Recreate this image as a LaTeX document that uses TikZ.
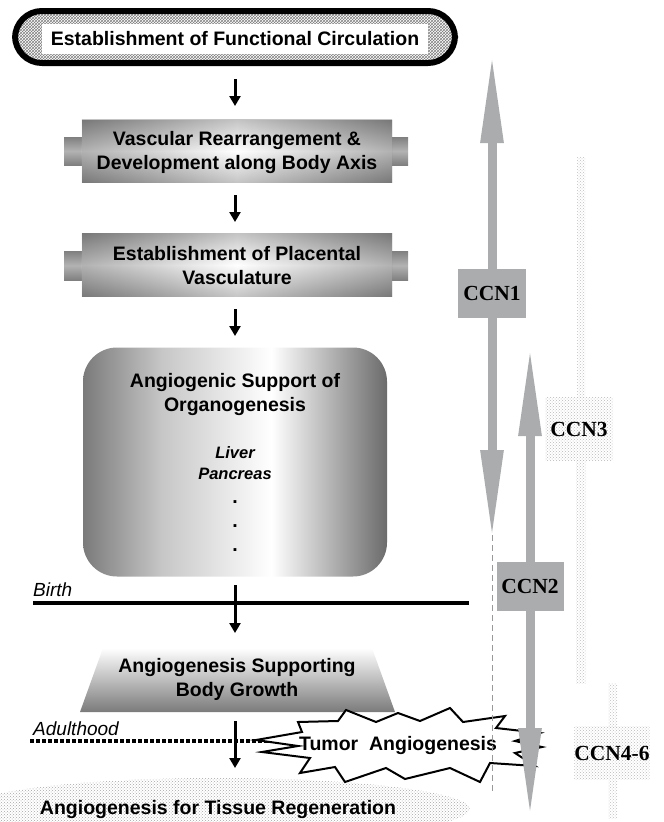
\documentclass[tikz,border=0pt]{standalone}
\usepackage{fontspec}
\setmainfont{Liberation Sans}
\newfontfamily\ccnfont{Liberation Serif}
\usetikzlibrary{patterns,shapes.geometric,arrows.meta}
\definecolor{ccngray}{RGB}{171,172,174}
\pgfdeclarehorizontalshading{boxh}{100bp}{color(0bp)=(black!55); color(25bp)=(black!55); color(50bp)=(white); color(75bp)=(black!55); color(100bp)=(black!55)}
\pgfdeclarehorizontalshading{organ}{100bp}{color(0bp)=(black!52); color(25bp)=(black!52); color(38bp)=(black!22); color(56bp)=(white); color(75bp)=(black!58); color(100bp)=(black!58)}
\tikzset{
  lbl/.style={font=\bfseries\fontsize{19.5}{24}\selectfont, align=center, inner sep=0pt},
  organlbl/.style={font=\bfseries\itshape\fontsize{16.5}{20.5}\selectfont, align=center, inner sep=0pt},
  timelbl/.style={font=\itshape\fontsize{19}{22}\selectfont, inner sep=0pt, anchor=base west},
  flowarrow/.style={line width=3pt, -{Triangle[length=10pt,width=11pt]}},
  ccnarrow/.style={line width=9pt, draw=ccngray, {Triangle[length=90pt,width=21pt]}-{Triangle[length=90pt,width=21pt]}},
  ccnbox/.style={fill=ccngray, font=\ccnfont\bfseries\fontsize{21.5}{21.5}\selectfont, inner sep=0pt},
  ccnfaint/.style={pattern=crosshatch dots, pattern color=black!28, font=\ccnfont\bfseries\fontsize{21.5}{21.5}\selectfont, inner sep=0pt},
  tab/.style={top color=black!50, bottom color=black!50, middle color=black!30, draw=none},
  burst/.style={draw, line width=2pt, fill=white, line join=miter},
}
\begin{document}
\begin{tikzpicture}[x=1pt,y=-1pt]
\useasboundingbox (0,0) rectangle (664,822);

% ---------- top capsule
\node[draw, line width=6pt, rounded corners=27pt, pattern=crosshatch, pattern color=black!50,
      minimum width=440pt, minimum height=52pt] (circ) at (235,37) {};
\node[fill=white, minimum width=386pt, minimum height=30pt, lbl] (circt) at (235,39) {Establishment of Functional Circulation};

% ---------- box 2
\fill[tab] (64,137) rectangle (84,165);
\fill[tab] (390,137) rectangle (408,165);
\node[shading=boxh, minimum width=310pt, minimum height=62pt, inner sep=0pt] (ax) at (237,151) {};
\shade[top color=black!50, bottom color=black!50, middle color=white, opacity=0.45] (ax.south west) rectangle (ax.north east);
\node[lbl] (axt) at (237,152) {Vascular Rearrangement \&\\Development along Body Axis};

% ---------- box 3
\fill[tab] (64,251) rectangle (84,280);
\fill[tab] (390,251) rectangle (408,280);
\node[shading=boxh, minimum width=310pt, minimum height=63pt, inner sep=0pt] (pl) at (237,265) {};
\shade[top color=black!50, bottom color=black!50, middle color=white, opacity=0.45] (pl.south west) rectangle (pl.north east);
\node[lbl] (plt) at (237,266) {Establishment of Placental\\Vasculature};

% ---------- box 4
\node[shading=organ, rounded corners=34pt, minimum width=304pt, minimum height=229pt, inner sep=0pt] (org) at (235,462) {};
\node[lbl] (orgt) at (235,394) {Angiogenic Support of\\Organogenesis};
\node[organlbl] (orgs) at (235,463) {Liver\\Pancreas};
\node[lbl] (d1) at (235,502) {.};
\node[lbl] (d2) at (235,526) {.};
\node[lbl] (d3) at (235,550) {.};

% ---------- flow arrows
\coordinate (a1s) at (235,79);
\coordinate (a1e) at (235,106);
\draw[flowarrow] (a1s) -- (a1e);
\coordinate (a2s) at (235,195);
\coordinate (a2e) at (235,222);
\draw[flowarrow] (a2s) -- (a2e);
\coordinate (a3s) at (235,309);
\coordinate (a3e) at (235,336);
\draw[flowarrow] (a3s) -- (a3e);

% ---------- birth
\coordinate (bl) at (33,603);
\coordinate (br) at (469,603);
\draw[line width=4pt] (bl) -- (br);
\node[timelbl] (birth) at (33,596) {Birth};
\coordinate (a4s) at (235,585);
\coordinate (a4e) at (235,633);
\draw[flowarrow] (a4s) -- (a4e);

% ---------- trapezoid
\shade[top color=white, bottom color=black!52] (103,648) -- (372,648) -- (395,712) -- (80,712) -- cycle;
\node[lbl] (grow) at (237,679) {Angiogenesis Supporting\\Body Growth};

% ---------- regeneration ellipse
\node[ellipse, pattern=crosshatch dots, pattern color=black!35, minimum width=385pt, minimum height=62pt, inner sep=0pt, lbl] (regen) at (218,809) {Angiogenesis for Tissue Regeneration};

% ---------- adulthood
\node[timelbl] (adult) at (33,735) {Adulthood};
\coordinate (dl) at (30,741);
\coordinate (dr) at (300,741);
\draw[line width=4pt, dash pattern=on 3.5pt off 2.5pt] (dl) -- (dr);

% ---------- tumor starburst
\draw[burst] (256,740) -- (302,732) -- (298,722) -- (338,721) -- (346,710) -- (376,722)
  -- (398,713) -- (420,721) -- (450,708) -- (463,722) -- (505,716) -- (496,728)
  -- (540,733) -- (515,741) -- (542,747) -- (515,753) -- (535,766) -- (490,763)
  -- (480,782) -- (450,768) -- (405,779) -- (386,768) -- (345,782) -- (335,767)
  -- (300,773) -- (310,758) -- (262,752) -- (298,746) -- cycle;
\node[lbl] (tumor) at (398,745) {Tumor\ \ Angiogenesis};
\coordinate (a5s) at (235,721);
\coordinate (a5e) at (235,768);
\draw[flowarrow] (a5s) -- (a5e);

% ---------- CCN faint bands
\fill[pattern=crosshatch dots, pattern color=black!25] (577,157) rectangle (585,397);
\fill[pattern=crosshatch dots, pattern color=black!25] (576,460) rectangle (586,683);
\node[ccnfaint, minimum width=68pt, minimum height=63pt] (ccn3) at (579,429) {CCN3};
\fill[pattern=crosshatch dots, pattern color=black!25] (608,683) rectangle (617,727);
\fill[pattern=crosshatch dots, pattern color=black!25] (608,780) rectangle (617,818);
\node[ccnfaint, minimum width=70pt, minimum height=53pt] (ccn46) at (612,753) {CCN4-6};

% ---------- CCN1 / CCN2
\coordinate (g1) at (492,535);
\coordinate (g2) at (492,792);
\draw[draw=black!40, line width=0.8pt, dash pattern=on 6pt off 4pt] (g1) -- (g2);
\coordinate (c1t) at (492,53);
\coordinate (c1b) at (492,540);
\draw[ccnarrow] (c1t) -- (c1b);
\node[ccnbox, minimum width=68pt, minimum height=49pt] (ccn1) at (492,293) {CCN1};
\coordinate (c2t) at (530,346);
\coordinate (c2b) at (530,818);
\draw[ccnarrow] (c2t) -- (c2b);
\node[ccnbox, minimum width=67pt, minimum height=49pt] (ccn2) at (530,586) {CCN2};
\end{tikzpicture}
\end{document}
